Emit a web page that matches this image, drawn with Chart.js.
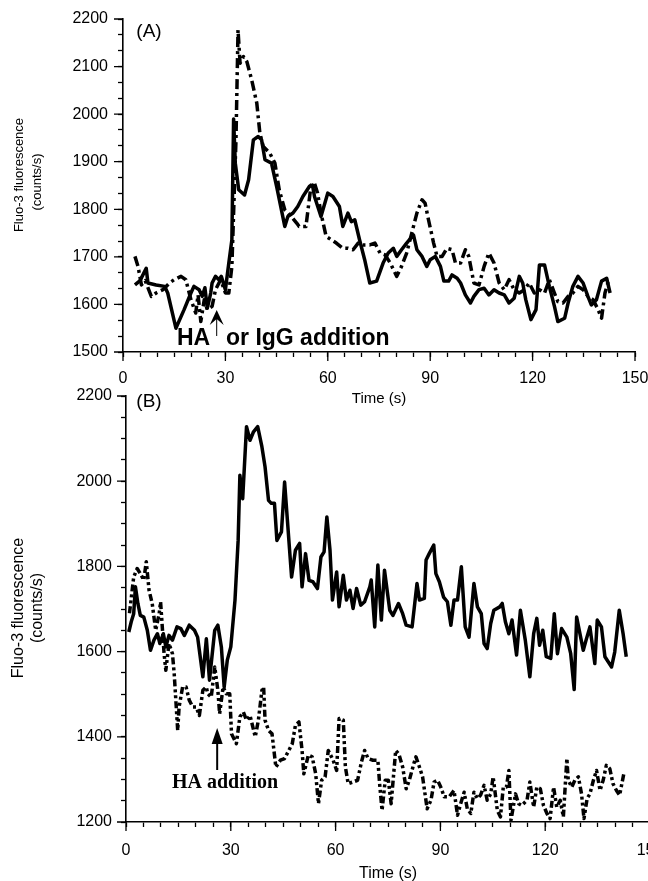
<!DOCTYPE html>
<html>
<head>
<meta charset="utf-8">
<script src="https://cdn.jsdelivr.net/npm/chart.js@4/dist/chart.umd.min.js"></script>
<style>
  html, body { margin: 0; padding: 0; background: #fff; width: 648px; height: 881px; overflow: hidden; }
  #wrapA { position: absolute; left: 0; top: 0; }
  #wrapB { position: absolute; left: 0; top: 380px; }
</style>
</head>
<body>
<div id="wrapA"><canvas id="chartA" width="648" height="415"></canvas></div>
<div id="wrapB"><canvas id="chartB" width="680" height="510"></canvas></div>
<script>
// ---- panel (A) ----
const xTicksA = [0, 30, 60, 90, 120, 150];
const yTicksA = [1500, 1600, 1700, 1800, 1900, 2000, 2100, 2200];

const timeASolid = [3.5, 5.0, 6.8, 7.3, 9.7, 12.2, 13.1, 15.5, 17.9, 19.9, 20.8, 22.3, 23.2, 24.0, 24.7, 25.7, 26.1, 27.1, 28.1, 28.8,
  30.0, 31.0, 31.9, 32.4, 32.9, 33.9, 35.6, 36.8, 38.2, 39.6, 40.6, 41.6, 43.5, 45.0, 47.4, 48.3, 49.8, 51.2, 52.7, 54.6,
  55.5, 56.1, 58.0, 60.0, 61.5, 63.4, 64.4, 65.9, 66.9, 67.9, 69.3, 70.8, 72.3, 74.3, 76.2, 77.7, 79.2, 80.2, 81.6, 83.1,
  85.1, 86.1, 87.6, 89.0, 90.0, 91.5, 93.0, 94.0, 95.4, 96.4, 97.9, 98.9, 100.3, 101.8, 102.8, 104.3, 105.8, 107.2, 108.7, 110.2,
  111.7, 113.1, 114.6, 116.1, 117.1, 118.0, 119.5, 121.0, 122.0, 123.5, 124.9, 126.4, 127.4, 129.4, 130.4, 131.8, 133.3, 134.8, 136.2, 137.2,
  138.7, 140.2, 141.7, 142.7];
const fluoASolid = [1641, 1650, 1676, 1645, 1641, 1638, 1624, 1550, 1589, 1624, 1638, 1631, 1617, 1635, 1592, 1624, 1645, 1659, 1652, 1659,
  1631, 1687, 1736, 1990, 1897, 1841, 1830, 1862, 1946, 1953, 1946, 1904, 1897, 1848, 1764, 1785, 1792, 1806, 1827, 1848,
  1851, 1827, 1785, 1834, 1827, 1806, 1764, 1792, 1774, 1778, 1736, 1694, 1645, 1649, 1687, 1708, 1718, 1701, 1715, 1729,
  1746, 1715, 1701, 1680, 1694, 1701, 1680, 1649, 1649, 1662, 1655, 1645, 1620, 1603, 1617, 1631, 1634, 1620, 1631, 1624,
  1620, 1603, 1613, 1659, 1645, 1610, 1568, 1589, 1683, 1683, 1638, 1596, 1564, 1571, 1603, 1638, 1659, 1645, 1617, 1599,
  1610, 1649, 1655, 1624];

const timeADashed = [3.5, 4.4, 5.4, 6.5, 8.3, 9.7, 11.7, 13.6, 15.0, 17.0, 18.4, 19.9, 21.3, 22.0, 22.8, 23.8, 24.7, 26.1, 27.1, 28.6,
  30.0, 31.0, 31.9, 33.1, 33.7, 34.3, 35.3, 36.3, 37.7, 39.2, 40.1, 41.1, 43.0, 44.5, 45.8, 47.4, 49.3, 51.0, 51.6, 53.6,
  55.1, 56.1, 57.0, 58.0, 59.5, 61.0, 62.5, 64.4, 65.9, 67.4, 68.9, 70.3, 72.3, 73.8, 75.3, 76.8, 78.3, 80.2, 81.6, 83.1,
  84.6, 86.1, 87.6, 88.5, 89.5, 91.0, 92.0, 93.5, 94.9, 96.4, 97.4, 98.9, 100.3, 101.3, 102.8, 104.3, 105.8, 107.2, 108.7, 110.2,
  111.7, 113.1, 114.6, 116.1, 117.6, 119.0, 120.5, 122.0, 123.5, 124.9, 126.4, 127.4, 128.9, 130.4, 131.8, 133.3, 134.8, 136.2, 137.7, 139.2,
  140.2, 141.2, 142.2];
const fluoADashed = [1701, 1680, 1641, 1650, 1617, 1624, 1631, 1645, 1652, 1659, 1652, 1610, 1582, 1620, 1564, 1610, 1589, 1596, 1631, 1652,
  1624, 1624, 1680, 1946, 2177, 2107, 2121, 2110, 2072, 2023, 1960, 1932, 1918, 1897, 1840, 1799, 1785, 1770, 1764, 1764,
  1851, 1855, 1834, 1792, 1743, 1736, 1729, 1718, 1718, 1715, 1729, 1725, 1725, 1729, 1708, 1704, 1687, 1659, 1680, 1708,
  1750, 1792, 1820, 1813, 1778, 1729, 1701, 1701, 1718, 1715, 1687, 1687, 1715, 1701, 1645, 1641, 1680, 1708, 1687, 1645,
  1631, 1652, 1631, 1624, 1631, 1645, 1624, 1631, 1624, 1652, 1624, 1606, 1603, 1617, 1624, 1638, 1631, 1617, 1610, 1589,
  1571, 1624, 1649];

// ---- panel (B) ----
const xTicksB = [0, 30, 60, 90, 120, 150];
const yTicksB = [1200, 1400, 1600, 1800, 2000, 2200];

const timeBSolid = [0.8, 1.5, 2.2, 2.7, 3.4, 4.1, 5.1, 6.1, 7.0, 8.0, 9.0, 9.7, 10.7, 11.4, 12.3, 13.3, 14.6, 15.7, 16.7, 18.1,
  19.6, 20.5, 22.0, 23.0, 23.9, 25.4, 26.3, 27.3, 28.1, 29.0, 30.0, 31.2, 32.1, 32.6, 33.4, 34.5, 35.5, 36.5, 37.7, 38.9,
  39.8, 40.8, 41.6, 42.5, 43.2, 44.5, 45.4, 47.4, 48.5, 49.7, 50.4, 51.4, 52.4, 53.5, 54.8, 55.8, 56.7, 57.5, 58.4, 59.1,
  60.3, 61.0, 62.2, 63.1, 64.1, 65.0, 66.0, 67.2, 68.3, 69.8, 70.2, 71.2, 72.1, 73.1, 74.0, 75.5, 76.4, 78.0, 79.2, 80.2,
  81.9, 83.3, 84.0, 85.4, 85.9, 86.8, 88.1, 88.7, 89.7, 90.9, 92.0, 93.0, 93.9, 94.9, 96.0, 97.1, 98.2, 99.6, 100.6, 101.7,
  102.5, 103.4, 104.4, 105.3, 107.0, 107.7, 108.6, 109.6, 110.5, 111.8, 112.9, 114.3, 115.6, 116.7, 117.6, 118.4, 119.3, 120.3, 121.6, 122.6,
  123.5, 124.7, 126.2, 127.3, 128.3, 129.0, 130.9, 131.7, 132.8, 134.2, 134.9, 136.1, 137.1, 139.0, 139.9, 141.2, 142.3, 143.2];
const fluoBSolid = [1646, 1670, 1689, 1752, 1713, 1685, 1681, 1650, 1603, 1627, 1642, 1619, 1642, 1611, 1638, 1627, 1658, 1654, 1638, 1662,
  1650, 1634, 1541, 1630, 1533, 1650, 1662, 1611, 1517, 1580, 1611, 1721, 1861, 2014, 1959, 2128, 2096, 2116, 2128, 2081,
  2034, 1955, 1948, 1948, 1861, 1881, 1998, 1775, 1838, 1854, 1752, 1830, 1767, 1764, 1748, 1822, 1834, 1916, 1838, 1721,
  1787, 1705, 1779, 1721, 1744, 1701, 1748, 1709, 1717, 1752, 1768, 1658, 1803, 1674, 1791, 1697, 1685, 1713, 1689, 1662,
  1658, 1760, 1721, 1725, 1815, 1830, 1850, 1783, 1764, 1728, 1717, 1662, 1721, 1721, 1799, 1658, 1634, 1760, 1705, 1689,
  1619, 1607, 1666, 1697, 1705, 1713, 1670, 1642, 1674, 1592, 1697, 1627, 1541, 1642, 1678, 1615, 1650, 1588, 1584, 1689,
  1595, 1654, 1634, 1595, 1511, 1681, 1603, 1627, 1658, 1572, 1674, 1658, 1588, 1564, 1599, 1697, 1642, 1588];

const timeBDashed = [1.0, 2.2, 3.2, 4.1, 5.1, 5.8, 6.6, 7.5, 8.5, 9.5, 9.9, 10.9, 11.4, 12.3, 13.3, 13.8, 14.8, 15.2, 16.2, 17.2,
  18.1, 19.1, 20.1, 21.0, 22.0, 23.0, 23.4, 24.4, 25.4, 26.3, 26.8, 27.8, 28.7, 29.7, 30.2, 31.6, 32.6, 33.6, 34.5, 35.5,
  37.0, 37.9, 38.9, 39.4, 39.8, 40.8, 41.8, 42.9, 44.2, 45.4, 46.6, 47.6, 48.5, 49.5, 50.4, 50.9, 52.2, 53.3, 54.3, 55.1,
  56.0, 57.0, 57.9, 59.3, 60.3, 61.0, 62.2, 62.8, 63.6, 65.0, 66.3, 67.4, 68.3, 69.3, 70.7, 72.1, 72.6, 73.3, 74.2, 75.1,
  75.9, 77.2, 78.1, 79.2, 80.2, 81.1, 82.4, 83.0, 84.0, 84.9, 86.2, 87.3, 88.2, 89.2, 90.1, 91.1, 92.5, 93.9, 94.9, 95.8,
  96.8, 97.7, 98.7, 99.6, 100.6, 101.5, 102.5, 103.4, 104.4, 105.1, 106.3, 107.2, 108.0, 108.9, 109.6, 110.2, 111.5, 112.4, 113.3, 114.8,
  115.6, 116.7, 117.6, 118.6, 119.5, 120.5, 121.4, 122.4, 123.3, 124.3, 125.2, 126.2, 126.6, 127.6, 128.5, 129.5, 130.4, 131.1, 132.0, 132.8,
  133.8, 134.7, 135.7, 136.6, 137.5, 138.5, 139.4, 140.4, 141.3, 142.5];
const fluoBDashed = [1690, 1775, 1795, 1783, 1768, 1811, 1744, 1713, 1650, 1689, 1717, 1595, 1556, 1619, 1595, 1548, 1415, 1470, 1517, 1517,
  1486, 1470, 1470, 1450, 1509, 1517, 1501, 1493, 1564, 1509, 1454, 1517, 1501, 1501, 1407, 1384, 1447, 1458, 1439, 1450,
  1400, 1439, 1509, 1517, 1439, 1415, 1407, 1329, 1345, 1349, 1368, 1384, 1427, 1435, 1368, 1313, 1357, 1353, 1313, 1243,
  1298, 1306, 1368, 1345, 1321, 1443, 1439, 1329, 1290, 1294, 1298, 1341, 1368, 1349, 1345, 1345, 1290, 1227, 1298, 1298,
  1243, 1368, 1360, 1329, 1278, 1298, 1337, 1353, 1329, 1306, 1231, 1251, 1294, 1298, 1282, 1259, 1259, 1274, 1216, 1243,
  1270, 1231, 1220, 1270, 1255, 1263, 1286, 1251, 1266, 1306, 1227, 1212, 1282, 1282, 1321, 1204, 1266, 1243, 1239, 1251,
  1294, 1235, 1282, 1278, 1239, 1220, 1208, 1282, 1235, 1251, 1212, 1349, 1298, 1282, 1298, 1306, 1266, 1208, 1255, 1266,
  1298, 1321, 1274, 1298, 1333, 1325, 1290, 1274, 1263, 1313];

const arrowTimeA = 27.45;
const arrowTimeB = 26.1;

function points(xs, ys) {
  return xs.map((x, i) => ({ x: x, y: ys[i] }));
}

// majors plus evenly spaced minor ticks between them
function withMinor(majors, parts) {
  const out = [];
  for (let i = 0; i < majors.length; i++) {
    out.push(majors[i]);
    if (i < majors.length - 1) {
      const step = (majors[i + 1] - majors[i]) / parts;
      for (let k = 1; k < parts; k++) out.push(majors[i] + k * step);
    }
  }
  return out;
}

// longer marks for majors, rotated y titles and the annotations
const decorPlugin = {
  id: 'decor',
  afterDraw(chart, args, opts) {
    const ctx = chart.ctx;
    const xs = chart.scales.x;
    const ys = chart.scales.y;
    const area = chart.chartArea;
    ctx.save();
    ctx.strokeStyle = '#000';
    ctx.fillStyle = '#000';
    ctx.lineWidth = 1.3;
    ctx.beginPath();
    opts.xMajors.forEach((v) => {
      const px = xs.getPixelForValue(v);
      ctx.moveTo(px, area.bottom);
      ctx.lineTo(px, area.bottom + 9);
    });
    opts.yMajors.forEach((v) => {
      const py = ys.getPixelForValue(v);
      ctx.moveTo(area.left, py);
      ctx.lineTo(area.left - 9, py);
    });
    ctx.stroke();

    // y-axis title, two lines
    ctx.font = opts.yTitleFont;
    ctx.textAlign = 'center';
    ctx.textBaseline = 'middle';
    opts.yTitle.forEach((line) => {
      ctx.save();
      ctx.translate(line.x, line.y);
      ctx.rotate(-Math.PI / 2);
      ctx.fillText(line.text, 0, 0);
      ctx.restore();
    });

    opts.labels.forEach((l) => {
      ctx.font = l.font;
      ctx.textAlign = l.align || 'left';
      ctx.textBaseline = 'alphabetic';
      ctx.fillText(l.text, l.x, l.y);
    });

    // arrow
    const a = opts.arrow;
    const ax = xs.getPixelForValue(a.time);
    ctx.lineWidth = a.shaft;
    ctx.beginPath();
    ctx.moveTo(ax, a.tip + a.head - a.notch - 1);
    ctx.lineTo(ax, a.end);
    ctx.stroke();
    ctx.beginPath();
    ctx.moveTo(ax, a.tip);
    ctx.lineTo(ax + a.half, a.tip + a.head);
    ctx.lineTo(ax, a.tip + a.head - a.notch);
    ctx.lineTo(ax - a.half, a.tip + a.head);
    ctx.closePath();
    ctx.fill();
    ctx.restore();
  },
};

function makeScales(cfg) {
  const xAll = withMinor(cfg.xMajors, cfg.xParts);
  const yAll = withMinor(cfg.yMajors, cfg.yParts);
  return {
    x: {
      type: 'linear',
      min: cfg.xMajors[0],
      max: cfg.xMajors[cfg.xMajors.length - 1],
      afterBuildTicks: (s) => { s.ticks = xAll.map((v) => ({ value: v })); },
      afterFit: (s) => { s.height = cfg.xHeight; s.paddingLeft = 0; s.paddingRight = 0; },
      border: { display: true, color: '#000', width: 1.6 },
      grid: { drawOnChartArea: false, drawTicks: true, tickLength: 5, tickColor: '#000', tickWidth: 1.3 },
      ticks: {
        autoSkip: false,
        maxRotation: 0,
        padding: cfg.xPad,
        color: '#000',
        font: { family: 'Liberation Sans, Arial, sans-serif', size: 16 },
        callback: (v) => (cfg.xMajors.includes(v) ? String(v) : ''),
      },
      title: {
        display: true,
        text: 'Time (s)',
        color: '#000',
        font: { family: 'Liberation Sans, Arial, sans-serif', size: cfg.xTitleSize },
        padding: { top: 0, bottom: cfg.xTitlePad },
      },
    },
    y: {
      type: 'linear',
      min: cfg.yMajors[0],
      max: cfg.yMajors[cfg.yMajors.length - 1],
      afterBuildTicks: (s) => { s.ticks = yAll.map((v) => ({ value: v })); },
      afterFit: (s) => { s.width = cfg.yWidth; s.paddingTop = 0; s.paddingBottom = 0; },
      border: { display: true, color: '#000', width: 1.6 },
      grid: { drawOnChartArea: false, drawTicks: true, tickLength: 5, tickColor: '#000', tickWidth: 1.3 },
      ticks: {
        autoSkip: false,
        padding: cfg.yPad,
        color: '#000',
        font: { family: 'Liberation Sans, Arial, sans-serif', size: 16 },
        callback: (v) => (cfg.yMajors.includes(v) ? String(v) : ''),
      },
    },
  };
}

const solidStyle = { borderColor: '#000', borderWidth: 3.5, pointRadius: 0, tension: 0, fill: false, borderJoinStyle: 'round' };

new Chart(document.getElementById('chartA'), {
  type: 'line',
  data: {
    datasets: [
      { ...solidStyle, data: points(timeASolid, fluoASolid) },
      { ...solidStyle, borderDash: [10, 4, 3, 4], data: points(timeADashed, fluoADashed) },
    ],
  },
  options: {
    responsive: false,
    animation: false,
    layout: { padding: { top: 19, right: 13, left: 0, bottom: 0 } },
    scales: makeScales({
      xMajors: xTicksA, xParts: 6, yMajors: yTicksA, yParts: 3,
      xHeight: 63, yWidth: 123, xPad: 12, yPad: 10, xTitleSize: 15, xTitlePad: 7,
    }),
    plugins: {
      legend: { display: false },
      tooltip: { enabled: false },
      decor: {
        xMajors: xTicksA,
        yMajors: yTicksA,
        yTitleFont: '13px "Liberation Sans", Arial, sans-serif',
        yTitle: [
          { text: 'Fluo-3 fluorescence', x: 19.5, y: 175 },
          { text: '(counts/s)', x: 37.5, y: 182 },
        ],
        labels: [
          { text: '(A)', x: 149, y: 37, align: 'center', font: '19px "Liberation Sans", Arial, sans-serif' },
          { text: 'HA', x: 177, y: 345, font: 'bold 23px "Liberation Sans", Arial, sans-serif' },
          { text: 'or IgG addition', x: 226, y: 345, font: 'bold 23px "Liberation Sans", Arial, sans-serif' },
        ],
        arrow: { time: arrowTimeA, tip: 310, end: 336, head: 15, half: 7, notch: 6, shaft: 1 },
      },
    },
  },
  plugins: [decorPlugin],
});

new Chart(document.getElementById('chartB'), {
  type: 'line',
  data: {
    datasets: [
      { ...solidStyle, data: points(timeBSolid, fluoBSolid) },
      { ...solidStyle, borderDash: [7, 3, 3, 3, 3, 3], data: points(timeBDashed, fluoBDashed) },
    ],
  },
  options: {
    responsive: false,
    animation: false,
    layout: { padding: { top: 16, right: 30, left: 0, bottom: 0 } },
    scales: makeScales({
      xMajors: xTicksB, xParts: 6, yMajors: yTicksB, yParts: 4,
      xHeight: 68, yWidth: 126, xPad: 14, yPad: 9, xTitleSize: 16, xTitlePad: 7,
    }),
    plugins: {
      legend: { display: false },
      tooltip: { enabled: false },
      decor: {
        xMajors: xTicksB,
        yMajors: yTicksB,
        yTitleFont: '16px "Liberation Sans", Arial, sans-serif',
        yTitle: [
          { text: 'Fluo-3 fluorescence', x: 18.5, y: 228 },
          { text: '(counts/s)', x: 37.5, y: 228 },
        ],
        labels: [
          { text: '(B)', x: 149, y: 27, align: 'center', font: '19px "Liberation Sans", Arial, sans-serif' },
          { text: 'HA addition', x: 172, y: 408, font: 'bold 20px "Liberation Serif", "Times New Roman", serif' },
        ],
        arrow: { time: arrowTimeB, tip: 348, end: 390, head: 16, half: 5.5, notch: 0, shaft: 2 },
      },
    },
  },
  plugins: [decorPlugin],
});
</script>
</body>
</html>
